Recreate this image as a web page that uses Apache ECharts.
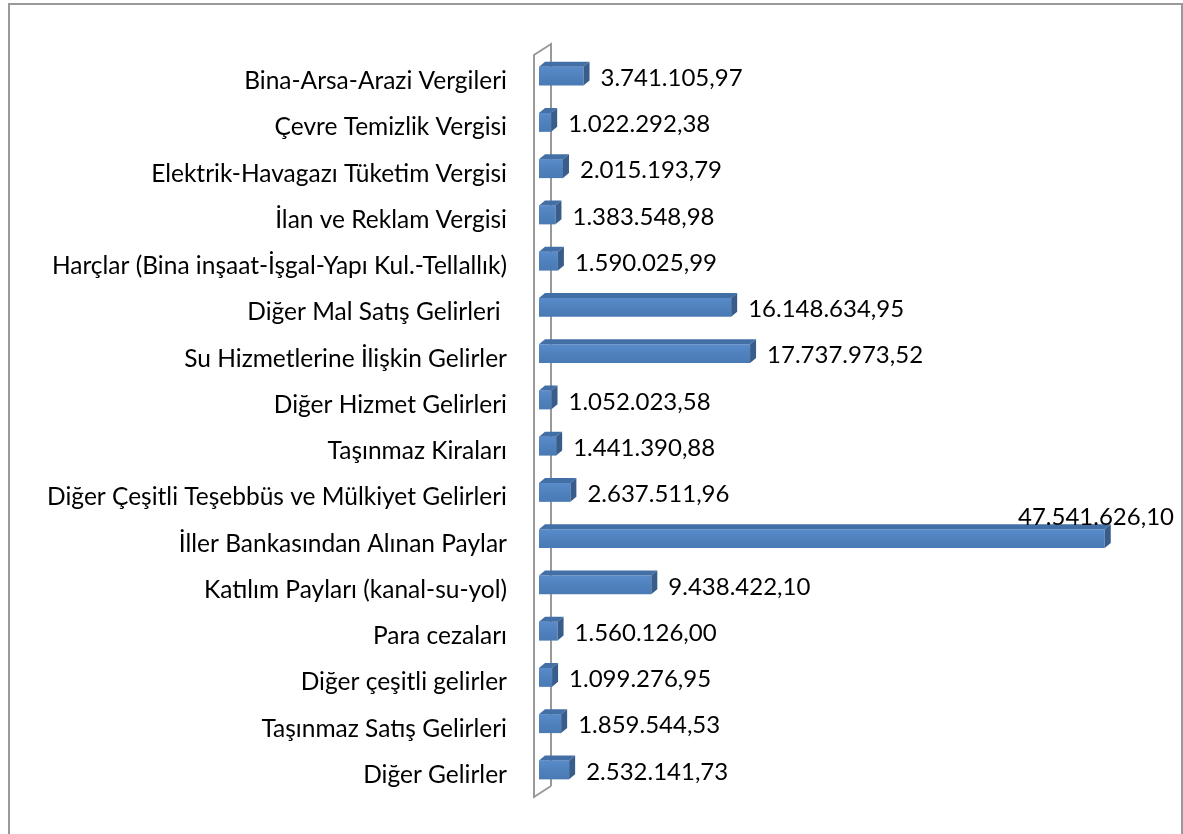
<!DOCTYPE html>
<html>
<head>
<meta charset="utf-8">
<script src="https://cdn.jsdelivr.net/npm/echarts@6/dist/echarts.min.js"></script>
<style>
html,body{margin:0;padding:0;background:#fff;}
#frame{position:absolute;left:8px;top:3px;width:1171px;height:840px;border-left:2px solid #999;border-top:2px solid #999;border-right:2px solid #999;}
#chart{position:absolute;left:0;top:0;width:1183px;height:834px;}
</style>
</head>
<body>
<div id="frame"></div>
<div id="chart"></div>
<script>
var categories = [
  "Bina-Arsa-Arazi Vergileri",
  "Çevre Temizlik Vergisi",
  "Elektrik-Havagazı Tüketim Vergisi",
  "İlan ve Reklam Vergisi",
  "Harçlar (Bina inşaat-İşgal-Yapı Kul.-Tellallık)",
  "Diğer Mal Satış Gelirleri ",
  "Su Hizmetlerine İlişkin Gelirler",
  "Diğer Hizmet Gelirleri",
  "Taşınmaz Kiraları",
  "Diğer Çeşitli Teşebbüs ve Mülkiyet Gelirleri",
  "İller Bankasından Alınan Paylar",
  "Katılım Payları (kanal-su-yol)",
  "Para cezaları",
  "Diğer çeşitli gelirler",
  "Taşınmaz Satış Gelirleri",
  "Diğer Gelirler"
];
var values = [
  3741105.97, 1022292.38, 2015193.79, 1383548.98, 1590025.99,
  16148634.95, 17737973.52, 1052023.58, 1441390.88, 2637511.96,
  47541626.10, 9438422.10, 1560126.00, 1099276.95, 1859544.53, 2532141.73
];
var valueLabels = [
  "3.741.105,97", "1.022.292,38", "2.015.193,79", "1.383.548,98", "1.590.025,99",
  "16.148.634,95", "17.737.973,52", "1.052.023,58", "1.441.390,88", "2.637.511,96",
  "47.541.626,10", "9.438.422,10", "1.560.126,00", "1.099.276,95", "1.859.544,53", "2.532.141,73"
];

var FONT_FAMILY = 'Lato';
var FONT_SIZE = 24;
var CAT_FONT_SIZE = 24.5;
var measureCtx = document.createElement('canvas').getContext('2d');
measureCtx.font = FONT_SIZE + 'px ' + FONT_FAMILY;
function textWidth(s){ return measureCtx.measureText(s).width; }

var DX = 6, DY = -5;
var BAR_SHIFT = -5;
var chart = echarts.init(document.getElementById('chart'), null, {renderer:'canvas'});

function renderBar(params, api){
  var idx = api.value(0);
  var val = api.value(1);
  var p0 = api.coord([0, idx]);
  var p1 = api.coord([val, idx]);
  var band = api.size([0, 1])[1];
  var h = band * 0.41;
  var x0 = p0[0], x1 = p1[0], yc = p0[1];
  var yt = yc + BAR_SHIFT - h/2, yb = yc + BAR_SHIFT + h/2;
  var label = valueLabels[params.dataIndex];
  var tw = textWidth(label);
  var lx = x1 + 17, ly = yc - 3;
  var limit = params.coordSys.x + params.coordSys.width + 40;
  if (lx + tw > limit) { lx = limit - tw; ly = yc - 26; }
  return {
    type: 'group',
    children: [
      {type:'rect', shape:{x:x0, y:yt, width:x1-x0, height:h},
        style:{fill:new echarts.graphic.LinearGradient(0,0,0,1,[{offset:0,color:'#5a8ccb'},{offset:0.5,color:'#4f81bd'},{offset:1,color:'#4a7ab4'}])}},
      {type:'polygon', shape:{points:[[x0,yt],[x0+DX,yt+DY],[x1+DX,yt+DY],[x1,yt]]},
        style:{fill:'#426fa6'}},
      {type:'polygon', shape:{points:[[x1,yt],[x1+DX,yt+DY],[x1+DX,yb+DY],[x1,yb]]},
        style:{fill:'#385d8a'}},
      {type:'text', x:lx, y:ly, z2:10,
        style:{text:label, fill:'#000', font: FONT_SIZE + 'px ' + FONT_FAMILY, textAlign:'left', textVerticalAlign:'middle'}}
    ]
  };
}

function renderWall(params, api){
  var cs = params.coordSys;
  var fx = cs.x - 5, ft = cs.y - 3, fb = cs.y + cs.height - 1;
  var ox = 17, oy = -11;
  return {
    type:'group',
    children:[
      {type:'polyline', shape:{points:[[fx+ox, fb+oy],[fx, fb],[fx, ft],[fx+ox, ft+oy],[fx+ox, fb+oy]]},
        style:{stroke:'#999', lineWidth:2, fill:null}}
    ]
  };
}

var barData = values.map(function(v, i){ return [i, v]; });

chart.setOption({
  animation:false,
  grid:{left:539, top:58, width:595, height:740},
  xAxis:{type:'value', min:0, max:50000000, show:false},
  yAxis:{type:'category', data:categories, inverse:true,
    axisLine:{show:false}, axisTick:{show:false},
    axisLabel:{color:'#000', fontSize:CAT_FONT_SIZE, fontFamily:FONT_FAMILY, margin:32}},
  series:[
    {type:'custom', renderItem:renderWall, data:[[0,0]], encode:{x:1, y:0}, z:1, silent:true},
    {type:'custom', renderItem:renderBar, data:barData, encode:{x:1, y:0}, z:2}
  ]
});
</script>
</body>
</html>
